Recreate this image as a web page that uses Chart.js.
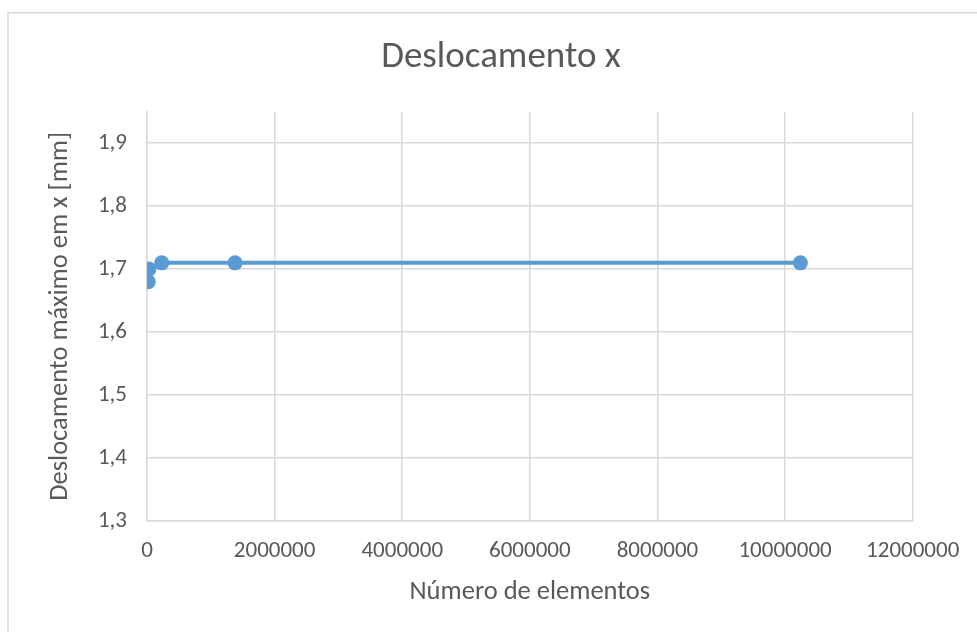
<!DOCTYPE html>
<html>
<head>
<meta charset="utf-8">
<title>Deslocamento x</title>
<script src="https://cdn.jsdelivr.net/npm/chart.js@4.4.1/dist/chart.umd.min.js"></script>
<style>
  html, body { margin: 0; padding: 0; background: #ffffff; }
  #wrap { position: relative; width: 977px; height: 632px; }
</style>
</head>
<body>
<div id="wrap"><canvas id="chart" width="977" height="632"></canvas></div>
<script>
// Mesh refinement study: number of elements vs. maximum x displacement
const chartTitle = 'Deslocamento x';
const xAxisTitle = 'Número de elementos';
const yAxisTitle = 'Deslocamento máximo em x [mm]';

const numElementos = [20000, 31000, 230000, 1380000, 10240000];
const deslocamentoMax = [1.68, 1.70, 1.71, 1.71, 1.71];

const xTickValues = [0, 2000000, 4000000, 6000000, 8000000, 10000000, 12000000];
const yTickValues = [1.3, 1.4, 1.5, 1.6, 1.7, 1.8, 1.9];

const FONT = 'Carlito, Calibri, Lato, sans-serif';
const TEXT = '#595959';
const GRID = '#d9d9d9';
const SERIES = '#5b9bd5';

const points = numElementos.map((x, i) => ({ x: x, y: deslocamentoMax[i] }));

// Chart frame (left and top edges) and centred title
const framePlugin = {
  id: 'frameAndTitle',
  beforeDraw(chart) {
    const ctx = chart.ctx;
    ctx.save();
    ctx.fillStyle = '#ffffff';
    ctx.fillRect(0, 0, chart.width, chart.height);
    ctx.strokeStyle = GRID;
    ctx.lineWidth = 1.5;
    ctx.beginPath();
    ctx.moveTo(8, chart.height + 2);
    ctx.lineTo(8, 12.7);
    ctx.lineTo(chart.width + 2, 12.7);
    ctx.stroke();
    ctx.fillStyle = TEXT;
    ctx.font = '37px ' + FONT;
    ctx.textAlign = 'center';
    ctx.textBaseline = 'middle';
    ctx.fillText(chartTitle, 501, 58);
    ctx.restore();
  }
};

new Chart(document.getElementById('chart'), {
  type: 'scatter',
  data: {
    datasets: [{
      data: points,
      showLine: true,
      borderColor: SERIES,
      backgroundColor: SERIES,
      borderWidth: 4,
      pointRadius: 7.5,
      pointHoverRadius: 7.5,
      pointBorderWidth: 0,
      pointBackgroundColor: SERIES,
      tension: 0
    }]
  },
  options: {
    responsive: false,
    animation: false,
    devicePixelRatio: 1,
    layout: { padding: { left: 0, top: 111.7, right: 64.3, bottom: 0 } },
    plugins: {
      legend: { display: false },
      title: { display: false },
      tooltip: { enabled: false }
    },
    scales: {
      x: {
        type: 'linear',
        min: 0,
        max: 12000000,
        afterBuildTicks(scale) { scale.ticks = xTickValues.map(v => ({ value: v })); },
        afterFit(scale) { scale.height = 111; },
        grid: { color: GRID, lineWidth: 1.5, drawTicks: false },
        border: { color: GRID, width: 1.5 },
        ticks: {
          color: TEXT,
          font: { family: FONT, size: 23 },
          padding: 16,
          maxRotation: 0,
          autoSkip: false,
          callback: v => String(v)
        },
        title: {
          display: true,
          text: xAxisTitle,
          color: TEXT,
          font: { family: FONT, size: 26.5 },
          padding: { top: 0, bottom: 24 }
        }
      },
      y: {
        type: 'linear',
        min: 1.3,
        max: 1.95,
        afterBuildTicks(scale) { scale.ticks = yTickValues.map(v => ({ value: v })); },
        afterFit(scale) { scale.width = 147; },
        grid: { color: GRID, lineWidth: 1.5, drawTicks: false },
        border: { color: GRID, width: 1.5 },
        ticks: {
          color: TEXT,
          font: { family: FONT, size: 23 },
          padding: 20,
          autoSkip: false,
          callback: v => v.toFixed(1).replace('.', ',')
        },
        title: {
          display: true,
          text: yAxisTitle,
          color: TEXT,
          font: { family: FONT, size: 26.5 },
          padding: { top: 44, bottom: 0 }
        }
      }
    }
  },
  plugins: [framePlugin]
});
</script>
</body>
</html>
